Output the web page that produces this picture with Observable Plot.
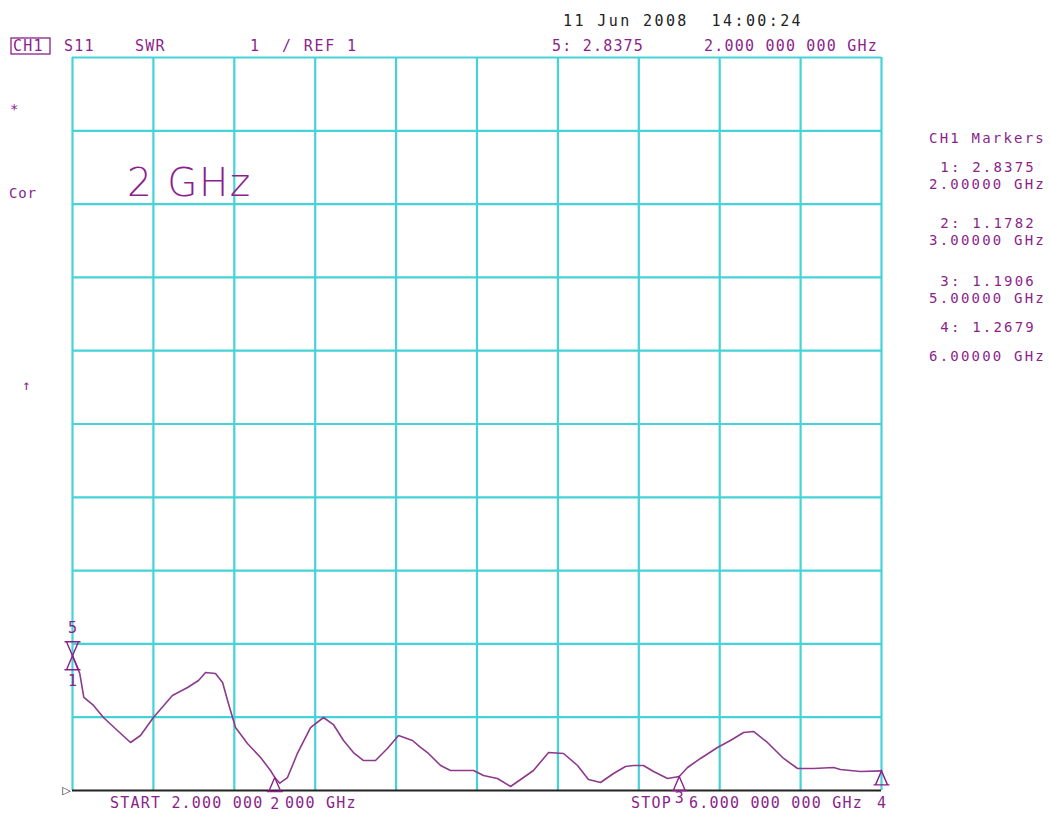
<!DOCTYPE html>
<html><head><meta charset="utf-8">
<script src="https://cdn.jsdelivr.net/npm/d3@7"></script>
<script src="https://cdn.jsdelivr.net/npm/@observablehq/plot@0.6"></script>
<style>
html,body{margin:0;padding:0;background:#fff;}
#chart{position:relative;width:1050px;height:817px;}
</style></head><body><div id="chart"></div>
<script>
// ---- data ----
const freqGHz = [2.000,2.036,2.056,2.104,2.153,2.222,2.287,2.336,2.400,2.494,2.569,2.623,2.658,2.707,2.742,2.771,2.806,2.865,2.930,2.979,3.000,3.025,3.063,3.112,3.177,3.241,3.290,3.340,3.389,3.439,3.498,3.557,3.612,3.681,3.721,3.760,3.820,3.869,3.983,4.032,4.101,4.166,4.230,4.279,4.354,4.428,4.497,4.551,4.611,4.675,4.734,4.774,4.823,4.873,4.942,5.000,5.041,5.105,5.189,5.253,5.318,5.367,5.436,5.516,5.585,5.664,5.763,5.797,5.896,6.000];
const swr     = [2.8375,2.596,2.269,2.160,1.996,1.819,1.655,1.750,1.996,2.296,2.405,2.501,2.610,2.596,2.473,2.187,1.859,1.641,1.450,1.273,1.178,1.100,1.177,1.505,1.859,1.996,1.900,1.682,1.518,1.409,1.409,1.573,1.750,1.682,1.587,1.505,1.341,1.273,1.273,1.205,1.164,1.055,1.177,1.273,1.518,1.505,1.341,1.150,1.109,1.232,1.327,1.341,1.341,1.259,1.164,1.1906,1.314,1.437,1.587,1.682,1.791,1.805,1.655,1.437,1.300,1.300,1.314,1.286,1.259,1.2679];
const markerIds  = ["1","2","3","4"];
const markerFreq = [2,3,5,6];
const markerSwr  = [2.8375,1.1782,1.1906,1.2679];
const refMarkerId = "5";
const xTicks = [2,2.4,2.8,3.2,3.6,4.0,4.4,4.8,5.2,5.6,6];
const yTicks = [1,2,3,4,5,6,7,8,9,10,11];
const headerTexts = ["CH1","S11","SWR","1","/ REF 1"];
const dateText = "11 Jun 2008  14:00:24";
const activeMarkerText = "5: 2.8375";
const activeFreqText = "2.000 000 000 GHz";
const sideTexts = ["*","Cor","↑"];
const bigLabel = "2 GHz";
const panelTitle = "CH1 Markers";
const panelValues = ["1: 2.8375","2: 1.1782","3: 1.1906","4: 1.2679"];
const panelFreqs = ["2.00000 GHz","3.00000 GHz","5.00000 GHz","6.00000 GHz"];
const startParts = ["START 2.000 000", "000 GHz"];
const stopWord = "STOP";
const stopFreq = "6.000 000 000 GHz";

// ---- style ----
const CYAN = "#45d3d8";
const PURPLE = "#8b1f8b";
const TRACE = "#8d3a8d";
const MONO = "'DejaVu Sans Mono', monospace";

const trace = freqGHz.map((f,i)=>({f, s: swr[i]}));
const markers = markerIds.map((id,i)=>({id, f: markerFreq[i], s: markerSwr[i]}));

const upTri = {draw(c){ c.moveTo(0,0); c.lineTo(-6,14); c.lineTo(6,14); c.closePath(); c.moveTo(-8,14); c.lineTo(8,14);} };
const downTri = {draw(c){ c.moveTo(0,0); c.lineTo(-6,-14); c.lineTo(6,-14); c.closePath(); c.moveTo(-8,-14); c.lineTo(8,-14);} };

const plot = Plot.plot({
  width: 1050, height: 817,
  marginLeft: 72, marginRight: 169, marginTop: 57, marginBottom: 27,
  x: {domain: [2,6], axis: null},
  y: {domain: [1,11], axis: null},
  style: {background: "transparent", overflow: "visible"},
  marks: [
    Plot.ruleX(xTicks, {stroke: CYAN, strokeWidth: 2.2, strokeOpacity: 1}),
    Plot.ruleY(yTicks.slice(1), {stroke: CYAN, strokeWidth: 2.2, strokeOpacity: 1}),
    Plot.line(trace, {x: "f", y: "s", stroke: TRACE, strokeWidth: 1.6}),
    Plot.ruleY([1], {stroke: "#222", strokeWidth: 2}),
    Plot.dot(markers, {x: "f", y: "s", symbol: upTri, r: 5, stroke: PURPLE, fill: "none", strokeWidth: 1.4}),
    Plot.dot([markers[0]], {x: "f", y: "s", symbol: downTri, r: 5, stroke: PURPLE, fill: "none", strokeWidth: 1.4}),
    Plot.text([markers[0]], {x: "f", y: "s", text: d => d.id, dy: 25, fill: PURPLE, fontSize: 15, fontFamily: MONO}),
    Plot.text([markers[0]], {x: "f", y: "s", text: () => refMarkerId, dy: -28, fill: PURPLE, fontSize: 15, fontFamily: MONO}),
    Plot.text([markers[1]], {x: "f", y: "s", text: d => d.id, dy: 27, fill: PURPLE, fontSize: 15, fontFamily: MONO}),
    Plot.text([markers[2]], {x: "f", y: "s", text: d => d.id, dy: 22, fill: PURPLE, fontSize: 15, fontFamily: MONO}),
    Plot.text([markers[3]], {x: "f", y: "s", text: d => d.id, dy: 32, fill: PURPLE, fontSize: 15, fontFamily: MONO}),
    Plot.text([{f: 2, s: 1}], {x: "f", y: "s", text: () => "▷", dx: -6, fill: "#222", fontSize: 11, fontFamily: "DejaVu Sans"})
  ]
});
document.getElementById("chart").appendChild(plot);

// ---- annotations (text) ----
const svg = d3.select(plot);
function t(str, x, y, opts = {}) {
  svg.append("text").attr("x", x).attr("y", y)
    .attr("fill", opts.fill || PURPLE)
    .attr("font-family", opts.family || MONO)
    .attr("font-size", opts.size || 15)
    .attr("font-weight", opts.weight || "normal")
    .attr("letter-spacing", opts.ls == null ? 1.2 : opts.ls)
    .attr("text-anchor", opts.anchor || "start")
    .text(str);
}
// header
svg.append("rect").attr("x", 11).attr("y", 38).attr("width", 39).attr("height", 16)
  .attr("fill", "none").attr("stroke", PURPLE).attr("stroke-width", 1.3);
t(headerTexts[0], 13, 51);
t(headerTexts[1], 64, 51);
t(headerTexts[2], 135, 51);
t(headerTexts[3], 250, 51);
t(headerTexts[4], 282, 51, {ls: 1.8});
t(dateText, 563, 26, {fill: "#222", ls: 2.4});
t(activeMarkerText, 552, 51);
t(activeFreqText, 878, 51, {anchor: "end"});
// left side
t(sideTexts[0], 10, 114, {size: 14});
t(sideTexts[1], 9, 198, {size: 14, ls: 0.8});
t(sideTexts[2], 22, 390, {size: 14});
// big label
t(bigLabel, 127, 196, {family: "'DejaVu Sans', sans-serif", size: 39, weight: 200, ls: 1.5});
// markers panel
t(panelTitle, 1046, 143, {anchor: "end", size: 14, ls: 2.2});
const vY = [172, 228, 286, 332];
const fY = [189, 245, 303, 361];
panelValues.forEach((s,i) => t(s, 1036, vY[i], {anchor: "end", size: 14, ls: 2.2}));
panelFreqs.forEach((s,i) => t(s, 1046, fY[i], {anchor: "end", size: 14, ls: 2.2}));
// bottom
t(startParts[0], 110, 808);
t(startParts[1], 285, 808);
t(stopWord, 631, 808);
t(stopFreq, 689, 808);
</script></body></html>
